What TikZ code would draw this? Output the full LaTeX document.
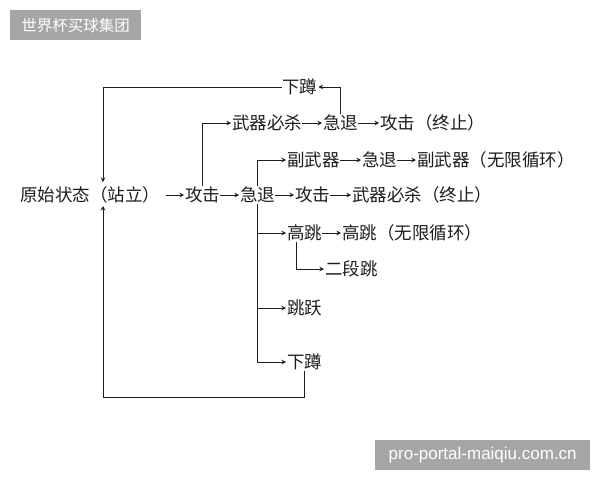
\documentclass[tikz,border=0pt]{standalone}
\usepackage{fontspec}
\newfontfamily\cjk{Noto Sans CJK SC}
\newfontfamily\wmfont{Liberation Sans}
\usetikzlibrary{arrows.meta}
\definecolor{ink}{HTML}{1E1E1E}
\definecolor{wmgray}{HTML}{A6A6A6}
\begin{document}
\begin{tikzpicture}[x=1pt,y=-1pt,
  lbl/.style={inner sep=0pt, anchor=west, text height=15pt, text depth=2pt,
    font=\cjk\fontsize{17.5}{20}\selectfont, text=ink},
  arr/.style={draw=ink, line width=0.95pt, -{Stealth[length=4.5pt,width=4.5pt]}, shorten >=1pt},
  wm/.style={fill=wmgray, text=white, inner sep=0pt, anchor=north west, minimum height=30pt}]
\useasboundingbox[fill=white] (0,0) rectangle (600,480);

% watermarks
\node[wm, minimum width=131pt, font=\cjk\fontsize{15.5}{18}\selectfont] (wm1) at (10,10) {世界杯买球集团};
\node[wm, minimum width=215pt, font=\wmfont\fontsize{17}{18}\selectfont] (wm2) at (375,440) {pro-portal-maiqiu.com.cn};

% nodes
\node[lbl] (x1) at (282,87) {下蹲};
\node[lbl] (w1) at (232,123) {武器必杀};
\node[lbl] (t2) at (323,123) {急退};
\node[lbl] (a3) at (380,123) {攻击（终止）};
\node[lbl] (f1) at (287,160) {副武器};
\node[lbl] (t3) at (362,160) {急退};
\node[lbl] (f2) at (417,160) {副武器（无限循环）};
\node[lbl] (st) at (20,195) {原始状态（站立）};
\node[lbl] (a1) at (185,195) {攻击};
\node[lbl] (t1) at (240,195) {急退};
\node[lbl] (a2) at (295,195) {攻击};
\node[lbl] (k1) at (352,195) {武器必杀（终止）};
\node[lbl] (g1) at (287,233) {高跳};
\node[lbl] (g2) at (342,233) {高跳（无限循环）};
\node[lbl] (e1) at (325,269) {二段跳};
\node[lbl] (j1) at (287,308) {跳跃};
\node[lbl] (x2) at (287,362) {下蹲};

\coordinate (sn) at (103,183);
\coordinate (ss) at (103,205);
\coordinate (tl) at (103,87);
\coordinate (bl) at (103,397);

% main row
\draw[arr, shorten <=6pt] (st.east) -- (a1.west);
\draw[arr] (a1.east) -- (t1.west);
\draw[arr] (t1.east) -- (a2.west);
\draw[arr] (a2.east) -- (k1.west);

% row 2
\draw[arr] (a1.north) |- (w1.west);
\draw[arr] (w1.east) -- (t2.west);
\draw[arr] (t2.east) -- (a3.west);
\draw[arr] (t2.north) |- (x1.east);

% loops back to start
\draw[arr] (x1.west) -- (tl) -- (sn);
\draw[arr] (x2.south) |- (bl) -- (ss);

% branches from 急退
\draw[arr] (t1.north) |- (f1.west);
\draw[arr] (f1.east) -- (t3.west);
\draw[arr] (t3.east) -- (f2.west);
\draw[arr] (t1.south) |- (g1.west);
\draw[arr] (t1.south) |- (j1.west);
\draw[arr] (t1.south) |- (x2.west);
\draw[arr] (g1.east) -- (g2.west);
\draw[arr] ([xshift=-8pt]g1.south) |- (e1.west);
\end{tikzpicture}
\end{document}
